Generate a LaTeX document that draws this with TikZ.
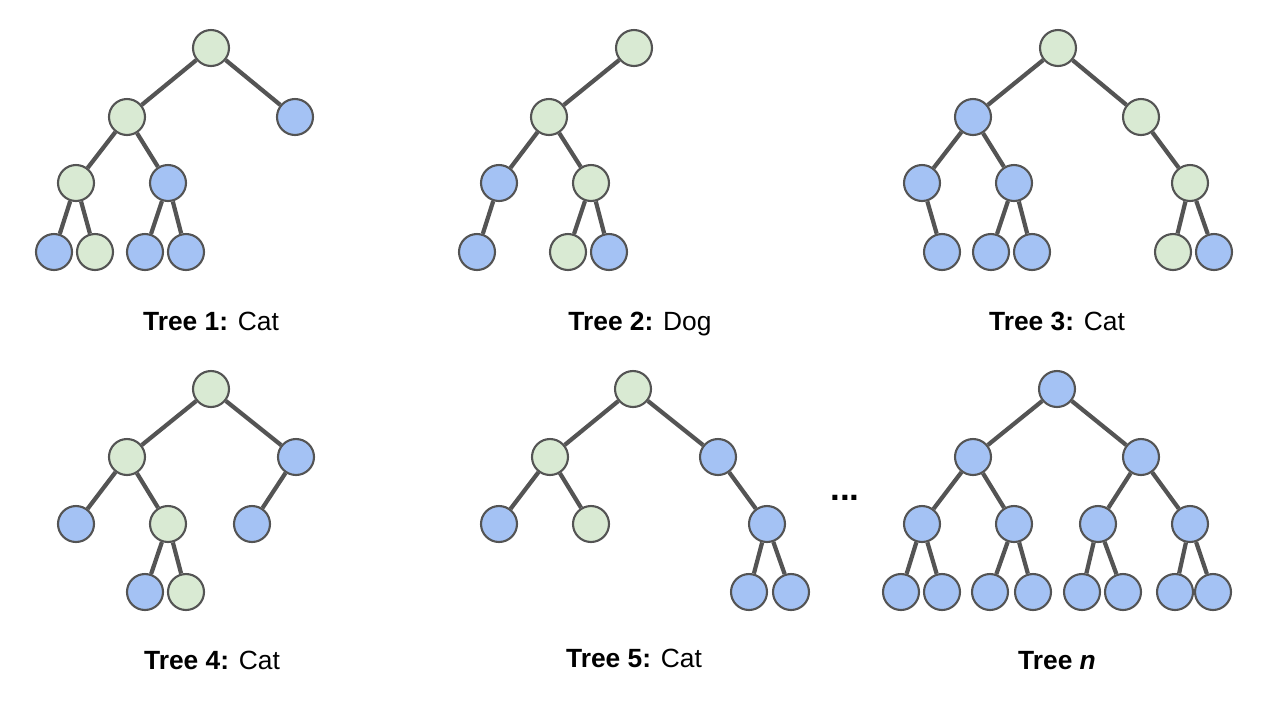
\documentclass[tikz,border=0pt]{standalone}
\usepackage{fontspec}
\setmainfont{Liberation Sans}
\usepackage{tikz}
\usetikzlibrary{shapes,arrows.meta}

\begin{document}
\begin{tikzpicture}[x=0.02cm,y=-0.02cm]
	\definecolor{leafgreen}{RGB}{217,234,211}
	\definecolor{leafblue}{RGB}{164,194,244}
	\definecolor{edgegray}{RGB}{84,84,84}
	\tikzstyle{every node}=[font=\fontsize{15}{18}\selectfont]
	\tikzstyle{vtx}=[circle, draw=edgegray, line width=1.2pt, minimum size=0.72cm, inner sep=0pt]
	\tikzstyle{cat}=[vtx, fill=leafgreen]
	\tikzstyle{dog}=[vtx, fill=leafblue]
	\tikzstyle{edge}=[draw=edgegray, line width=2.4pt]
	\tikzstyle{caption}=[anchor=base]

	\useasboundingbox (0,0) rectangle (1268,718);

	%% tree 1
	\node [cat] (t1r)   at (211,48)  {};
	\node [cat] (t1a)   at (127,117) {};
	\node [dog] (t1b)   at (295,117) {};
	\node [cat] (t1aa)  at (76,183)  {};
	\node [dog] (t1ab)  at (168,183) {};
	\node [dog] (t1aaa) at (54,252)  {};
	\node [cat] (t1aab) at (95,252)  {};
	\node [dog] (t1aba) at (145,252) {};
	\node [dog] (t1abb) at (186,252) {};
	\draw [edge] (t1r) -- (t1a);
	\draw [edge] (t1r) -- (t1b);
	\draw [edge] (t1a) -- (t1aa);
	\draw [edge] (t1a) -- (t1ab);
	\draw [edge] (t1aa) -- (t1aaa);
	\draw [edge] (t1aa) -- (t1aab);
	\draw [edge] (t1ab) -- (t1aba);
	\draw [edge] (t1ab) -- (t1abb);
	\node [caption] (c1) at (211,330) {\textbf{Tree 1:} Cat};

	%% tree 2
	\node [cat] (t2r)   at (634,48)  {};
	\node [cat] (t2a)   at (549,117) {};
	\node [dog] (t2aa)  at (499,183) {};
	\node [cat] (t2ab)  at (591,183) {};
	\node [dog] (t2aaa) at (477,252) {};
	\node [cat] (t2aba) at (568,252) {};
	\node [dog] (t2abb) at (609,252) {};
	\draw [edge] (t2r) -- (t2a);
	\draw [edge] (t2a) -- (t2aa);
	\draw [edge] (t2a) -- (t2ab);
	\draw [edge] (t2aa) -- (t2aaa);
	\draw [edge] (t2ab) -- (t2aba);
	\draw [edge] (t2ab) -- (t2abb);
	\node [caption] (c2) at (640,330) {\textbf{Tree 2:} Dog};

	%% tree 3
	\node [cat] (t3r)   at (1058,48)  {};
	\node [dog] (t3a)   at (973,117)  {};
	\node [cat] (t3b)   at (1141,117) {};
	\node [dog] (t3aa)  at (922,183)  {};
	\node [dog] (t3ab)  at (1014,183) {};
	\node [cat] (t3bb)  at (1190,183) {};
	\node [dog] (t3aab) at (942,252)  {};
	\node [dog] (t3aba) at (991,252)  {};
	\node [dog] (t3abb) at (1032,252) {};
	\node [cat] (t3bba) at (1173,252) {};
	\node [dog] (t3bbb) at (1214,252) {};
	\draw [edge] (t3r) -- (t3a);
	\draw [edge] (t3r) -- (t3b);
	\draw [edge] (t3a) -- (t3aa);
	\draw [edge] (t3a) -- (t3ab);
	\draw [edge] (t3b) -- (t3bb);
	\draw [edge] (t3aa) -- (t3aab);
	\draw [edge] (t3ab) -- (t3aba);
	\draw [edge] (t3ab) -- (t3abb);
	\draw [edge] (t3bb) -- (t3bba);
	\draw [edge] (t3bb) -- (t3bbb);
	\node [caption] (c3) at (1057,330) {\textbf{Tree 3:} Cat};

	%% tree 4
	\node [cat] (t4r)   at (211,389) {};
	\node [cat] (t4a)   at (127,457) {};
	\node [dog] (t4b)   at (296,457) {};
	\node [dog] (t4aa)  at (76,524)  {};
	\node [cat] (t4ab)  at (168,524) {};
	\node [dog] (t4ba)  at (252,524) {};
	\node [dog] (t4aba) at (145,592) {};
	\node [cat] (t4abb) at (186,592) {};
	\draw [edge] (t4r) -- (t4a);
	\draw [edge] (t4r) -- (t4b);
	\draw [edge] (t4a) -- (t4aa);
	\draw [edge] (t4a) -- (t4ab);
	\draw [edge] (t4b) -- (t4ba);
	\draw [edge] (t4ab) -- (t4aba);
	\draw [edge] (t4ab) -- (t4abb);
	\node [caption] (c4) at (212,669) {\textbf{Tree 4:} Cat};

	%% tree 5
	\node [cat] (t5r)   at (633,389) {};
	\node [cat] (t5a)   at (550,457) {};
	\node [dog] (t5b)   at (718,457) {};
	\node [dog] (t5aa)  at (499,524) {};
	\node [cat] (t5ab)  at (591,524) {};
	\node [dog] (t5bb)  at (767,524) {};
	\node [dog] (t5bba) at (749,592) {};
	\node [dog] (t5bbb) at (791,592) {};
	\draw [edge] (t5r) -- (t5a);
	\draw [edge] (t5r) -- (t5b);
	\draw [edge] (t5a) -- (t5aa);
	\draw [edge] (t5a) -- (t5ab);
	\draw [edge] (t5b) -- (t5bb);
	\draw [edge] (t5bb) -- (t5bba);
	\draw [edge] (t5bb) -- (t5bbb);
	\node [caption] (c5) at (634,667) {\textbf{Tree 5:} Cat};

	\node [font=\fontsize{20}{22}\selectfont\bfseries] (gap) at (845,498) {...};

	%% tree n
	\node [dog] (tnr)   at (1057,389) {};
	\node [dog] (tna)   at (973,457)  {};
	\node [dog] (tnb)   at (1141,457) {};
	\node [dog] (tnaa)  at (922,524)  {};
	\node [dog] (tnab)  at (1014,524) {};
	\node [dog] (tnba)  at (1098,524) {};
	\node [dog] (tnbb)  at (1190,524) {};
	\node [dog] (tnaaa) at (901,592)  {};
	\node [dog] (tnaab) at (942,592)  {};
	\node [dog] (tnaba) at (990,592)  {};
	\node [dog] (tnabb) at (1033,592) {};
	\node [dog] (tnbaa) at (1082,592) {};
	\node [dog] (tnbab) at (1123,592) {};
	\node [dog] (tnbba) at (1175,592) {};
	\node [dog] (tnbbb) at (1213,592) {};
	\draw [edge] (tnr) -- (tna);
	\draw [edge] (tnr) -- (tnb);
	\draw [edge] (tna) -- (tnaa);
	\draw [edge] (tna) -- (tnab);
	\draw [edge] (tnb) -- (tnba);
	\draw [edge] (tnb) -- (tnbb);
	\draw [edge] (tnaa) -- (tnaaa);
	\draw [edge] (tnaa) -- (tnaab);
	\draw [edge] (tnab) -- (tnaba);
	\draw [edge] (tnab) -- (tnabb);
	\draw [edge] (tnba) -- (tnbaa);
	\draw [edge] (tnba) -- (tnbab);
	\draw [edge] (tnbb) -- (tnbba);
	\draw [edge] (tnbb) -- (tnbbb);
	\node [caption] (cn) at (1057,669) {\textbf{Tree \textit{n}}};

\end{tikzpicture}
\end{document}
